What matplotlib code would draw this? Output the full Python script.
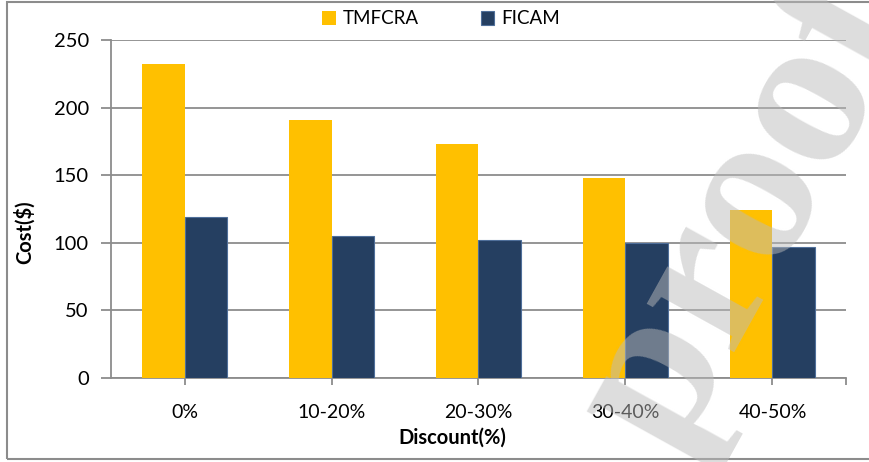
import matplotlib
matplotlib.use("Agg")
import matplotlib.pyplot as plt
import numpy as np
from matplotlib.patches import Rectangle, Patch

categories = ["0%", "10-20%", "20-30%", "30-40%", "40-50%"]
tmfcra = [232, 191, 173, 148, 124]
ficam = [119, 105, 102, 100, 97]
series_names = ["TMFCRA", "FICAM"]
y_ticks = [0, 50, 100, 150, 200, 250]

plt.rcParams['font.family'] = ['Lato', 'DejaVu Sans']

W, H = 869, 462
fig = plt.figure(figsize=(W / 100, H / 100), dpi=100)
ax = fig.add_axes([111 / W, 1 - 378 / H, (846 - 111) / W, (378 - 40) / H])

grid_c = "#8c8c8c"
yellow = "#FFC000"
navy = "#253F61"

x = np.arange(len(categories))
bw = 0.29
ax.bar(x - bw / 2, tmfcra, width=bw, color=yellow, zorder=3)
ax.bar(x + bw / 2, ficam, width=bw, color=navy, edgecolor="#4f6f9a", linewidth=0.8, zorder=3)

ax.set_xlim(-0.5, len(categories) - 0.5)
ax.set_ylim(0, 250)
ax.set_yticks(y_ticks)
ax.set_yticklabels([str(v) for v in y_ticks], fontsize=14.5)
ax.set_xticks(x)
ax.set_xticklabels(categories, fontsize=14)
ax.set_xticks([len(categories) - 0.5], minor=True)

ax.yaxis.grid(True, color=grid_c, linewidth=1.3, zorder=0)
ax.set_axisbelow(True)
for s in ["top", "right"]:
    ax.spines[s].set_visible(False)
for s in ["left", "bottom"]:
    ax.spines[s].set_color(grid_c)
    ax.spines[s].set_linewidth(1.3)
ax.tick_params(axis="y", length=7, width=1.3, color=grid_c, pad=9)
ax.tick_params(axis="x", which="both", length=5, width=1.3, color=grid_c, pad=14)

ax.set_xlabel("Discount(%)", fontsize=14.5, fontweight="bold")
ax.xaxis.set_label_coords(0.464, -0.148)
ax.set_ylabel("Cost($)", fontsize=14.5, fontweight="bold")
ax.yaxis.set_label_coords(-0.103, 0.43)

handles = [Patch(facecolor=yellow), Patch(facecolor=navy, edgecolor="#4f6f9a", linewidth=0.8)]
fig.legend(handles, series_names, loc="center", bbox_to_anchor=(0.508, 1 - 19 / H), ncol=2,
           frameon=False, fontsize=13.5, handlelength=0.7, handleheight=0.7,
           handletextpad=0.4, columnspacing=3.3)

# outer chart border
fig.patches.append(Rectangle((7 / W, 3 / H), 1.2, 1 - 5 / H, transform=fig.transFigure,
                             fill=False, edgecolor=grid_c, linewidth=1.5, clip_on=False))

# watermark
fig.text(672 / W, 1 - 460 / H, "proof", fontsize=157, family="Liberation Serif",
         fontweight="bold", color="#bbbbbb", alpha=0.5, rotation=61,
         ha="left", va="baseline", rotation_mode="anchor", zorder=10)

fig.savefig("out.png", dpi=100)
